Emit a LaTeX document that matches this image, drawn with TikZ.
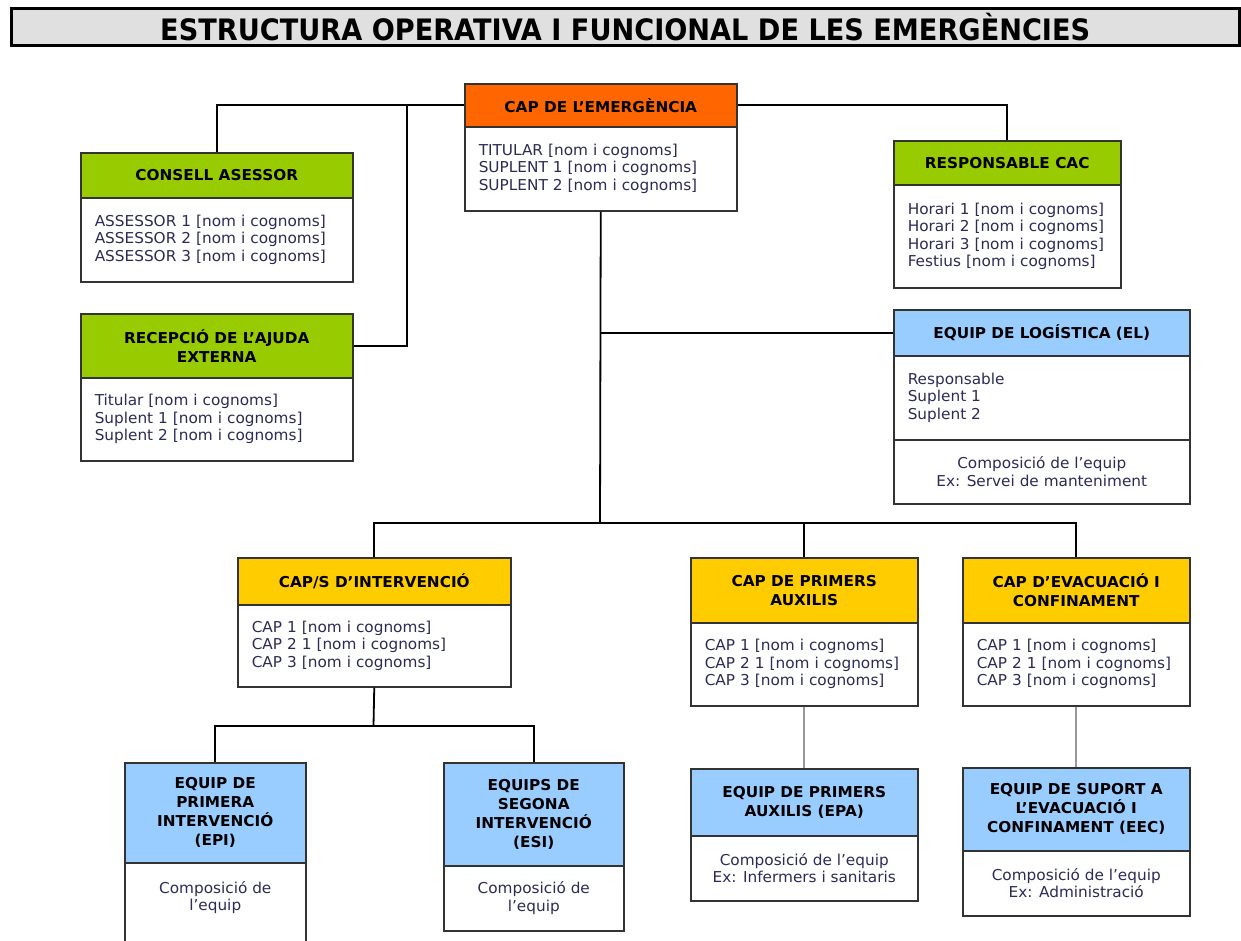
\documentclass[tikz,border=0pt]{standalone}
\usepackage{fontspec}
\setmainfont{DejaVu Sans}[FakeStretch=1.02]
\newfontfamily\ttlfont{DejaVu Sans}
\usetikzlibrary{calc}
\definecolor{orangeh}{HTML}{FF6600}
\definecolor{greenh}{HTML}{99CC00}
\definecolor{yellowh}{HTML}{FFCC00}
\definecolor{blueh}{HTML}{99CCFF}
\definecolor{boxgray}{HTML}{333333}
\definecolor{bodyblue}{HTML}{2B2A58}
\definecolor{titlegray}{HTML}{E0E0E0}
\newcommand\hdrfont{\fontsize{15}{19}\selectfont\bfseries\hyphenpenalty=10000 }
\newcommand\bdyfont{\fontsize{15}{17.5}\selectfont\hyphenpenalty=10000 \exhyphenpenalty=10000 }
\tikzset{
  box/.style={draw=boxgray, line width=1.5pt, rectangle, anchor=north west, inner sep=0pt},
  hdr/.style={box, font=\hdrfont, align=center, text=black},
  bodyl/.style={box, fill=white, font=\bdyfont, align=left, text=bodyblue, inner xsep=14pt},
  bodyc/.style={box, fill=white, font=\bdyfont, align=center, text=bodyblue},
  conn/.style={draw=black, line width=1.8pt},
  gconn/.style={draw=black!40, line width=2.2pt},
  titlebar/.style={draw=black, line width=2.5pt, fill=titlegray, anchor=north west, inner sep=0pt}
}
\begin{document}
\begin{tikzpicture}[x=1pt,y=-1pt]
\useasboundingbox (0,0) rectangle (1241,940);
\fill[white] (0,0) rectangle (1241,940);

% title
\node[titlebar, minimum width=1228pt, minimum height=37pt] (title) at (10,7)
  {\resizebox{930pt}{\height}{\ttlfont\bfseries\fontsize{29.5}{30}\selectfont ESTRUCTURA OPERATIVA I FUNCIONAL DE LES EMERGÈNCIES}};

% CAP DE L'EMERGENCIA
\node[hdr, fill=orangeh, minimum width=272pt, minimum height=43pt] (cap-h) at (464,83) {CAP DE L’EMERGÈNCIA};
\node[bodyl, text width=244pt, minimum height=84pt] (cap-b) at (464,126)
  {TITULAR [nom i cognoms]\\SUPLENT 1 [nom i cognoms]\\SUPLENT 2 [nom i cognoms]};

% CONSELL ASESSOR
\node[hdr, fill=greenh, minimum width=272pt, minimum height=45pt] (cons-h) at (80,152) {CONSELL ASESSOR};
\node[bodyl, text width=244pt, minimum height=84pt] (cons-b) at (80,197)
  {ASSESSOR 1 [nom i cognoms]\\ASSESSOR 2 [nom i cognoms]\\ASSESSOR 3 [nom i cognoms]};

% RECEPCIO
\node[hdr, fill=greenh, minimum width=272pt, minimum height=64pt] (rec-h) at (80,313) {RECEPCIÓ DE L’AJUDA\\EXTERNA};
\node[bodyl, text width=244pt, minimum height=83pt] (rec-b) at (80,377)
  {Titular [nom i cognoms]\\Suplent 1 [nom i cognoms]\\Suplent 2 [nom i cognoms]};

% RESPONSABLE CAC
\node[hdr, fill=greenh, minimum width=227pt, minimum height=44pt] (cac-h) at (893,140) {RESPONSABLE CAC};
\node[bodyl, text width=199pt, minimum height=103pt] (cac-b) at (893,184)
  {Horari 1 [nom i cognoms]\\Horari 2 [nom i cognoms]\\Horari 3 [nom i cognoms]\\Festius [nom i cognoms]};

% EQUIP DE LOGISTICA
\node[hdr, fill=blueh, minimum width=296pt, minimum height=46pt] (el-h) at (893,309) {EQUIP DE LOGÍSTICA (EL)};
\node[bodyl, text width=268pt, minimum height=84pt] (el-b) at (893,355)
  {Responsable\\Suplent 1\\Suplent 2};
\node[bodyc, minimum width=296pt, minimum height=64pt] (el-c) at (893,439)
  {Composició de l’equip\\Ex: Servei de manteniment};

% CAP/S D'INTERVENCIO
\node[hdr, fill=yellowh, minimum width=273pt, minimum height=47pt] (int-h) at (237,557) {CAP/S D’INTERVENCIÓ};
\node[bodyl, text width=245pt, minimum height=82pt] (int-b) at (237,604)
  {CAP 1 [nom i cognoms]\\CAP 2 1 [nom i cognoms]\\CAP 3 [nom i cognoms]};

% CAP DE PRIMERS AUXILIS
\node[hdr, fill=yellowh, minimum width=227pt, minimum height=65pt] (pa-h) at (690,557) {CAP DE PRIMERS\\AUXILIS};
\node[bodyl, text width=199pt, minimum height=83pt] (pa-b) at (690,622)
  {CAP 1 [nom i cognoms]\\CAP 2 1 [nom i cognoms]\\CAP 3 [nom i cognoms]};

% CAP D'EVACUACIO
\node[hdr, fill=yellowh, minimum width=227pt, minimum height=65pt] (ev-h) at (962,557) {CAP D’EVACUACIÓ I\\CONFINAMENT};
\node[bodyl, text width=199pt, minimum height=83pt] (ev-b) at (962,622)
  {CAP 1 [nom i cognoms]\\CAP 2 1 [nom i cognoms]\\CAP 3 [nom i cognoms]};

% EPI
\node[hdr, fill=blueh, minimum width=181pt, minimum height=100pt] (epi-h) at (124,762) {EQUIP DE\\PRIMERA\\INTERVENCIÓ\\(EPI)};
\node[bodyc, minimum width=181pt, minimum height=90pt] (epi-b) at (124,862) {};
\node[font=\bdyfont, text=bodyblue, align=center, anchor=north, inner sep=0pt] (epi-t) at ([yshift=-19pt]epi-b.north)
  {Composició de\\l’equip};

% ESI
\node[hdr, fill=blueh, minimum width=180pt, minimum height=103pt] (esi-h) at (443,762) {EQUIPS DE\\SEGONA\\INTERVENCIÓ\\(ESI)};
\node[bodyc, minimum width=180pt, minimum height=65pt] (esi-b) at (443,865)
  {Composició de\\l’equip};

% EPA
\node[hdr, fill=blueh, minimum width=227pt, minimum height=67pt] (epa-h) at (690,768) {EQUIP DE PRIMERS\\AUXILIS (EPA)};
\node[bodyc, minimum width=227pt, minimum height=65pt] (epa-b) at (690,835)
  {Composició de l’equip\\Ex: Infermers i sanitaris};

% EEC
\node[hdr, fill=blueh, minimum width=227pt, minimum height=83pt] (eec-h) at (962,767) {EQUIP DE SUPORT A\\L’EVACUACIÓ I\\CONFINAMENT (EEC)};
\node[bodyc, minimum width=227pt, minimum height=65pt] (eec-b) at (962,850)
  {Composició de l’equip\\Ex: Administració};

% connectors
\coordinate (j1) at (407,104.5);
\draw[conn] (cap-h.west) -| (cons-h.north);
\draw[conn] (j1) |- (rec-h.east);
\draw[conn] (cap-h.east) -| (cac-h.north);
\coordinate (hub) at (600,523);
\draw[conn] (cap-b.south) -- (hub);
\draw[conn] (cap-b.south |- el-h.west) -- (el-h.west);
\draw[conn] (int-h.north) |- (hub) -| (ev-h.north);
\draw[conn] (pa-h.north) -- (pa-h.north |- hub);
\coordinate (j2) at (373.5,726);
\draw[conn] (int-b.south) -- (j2);
\draw[conn] (epi-h.north) |- (esi-h.north |- j2) -- (esi-h.north);
\draw[gconn] (pa-b.south) -- (epa-h.north);
\draw[gconn] (ev-b.south) -- (eec-h.north);
\end{tikzpicture}
\end{document}
